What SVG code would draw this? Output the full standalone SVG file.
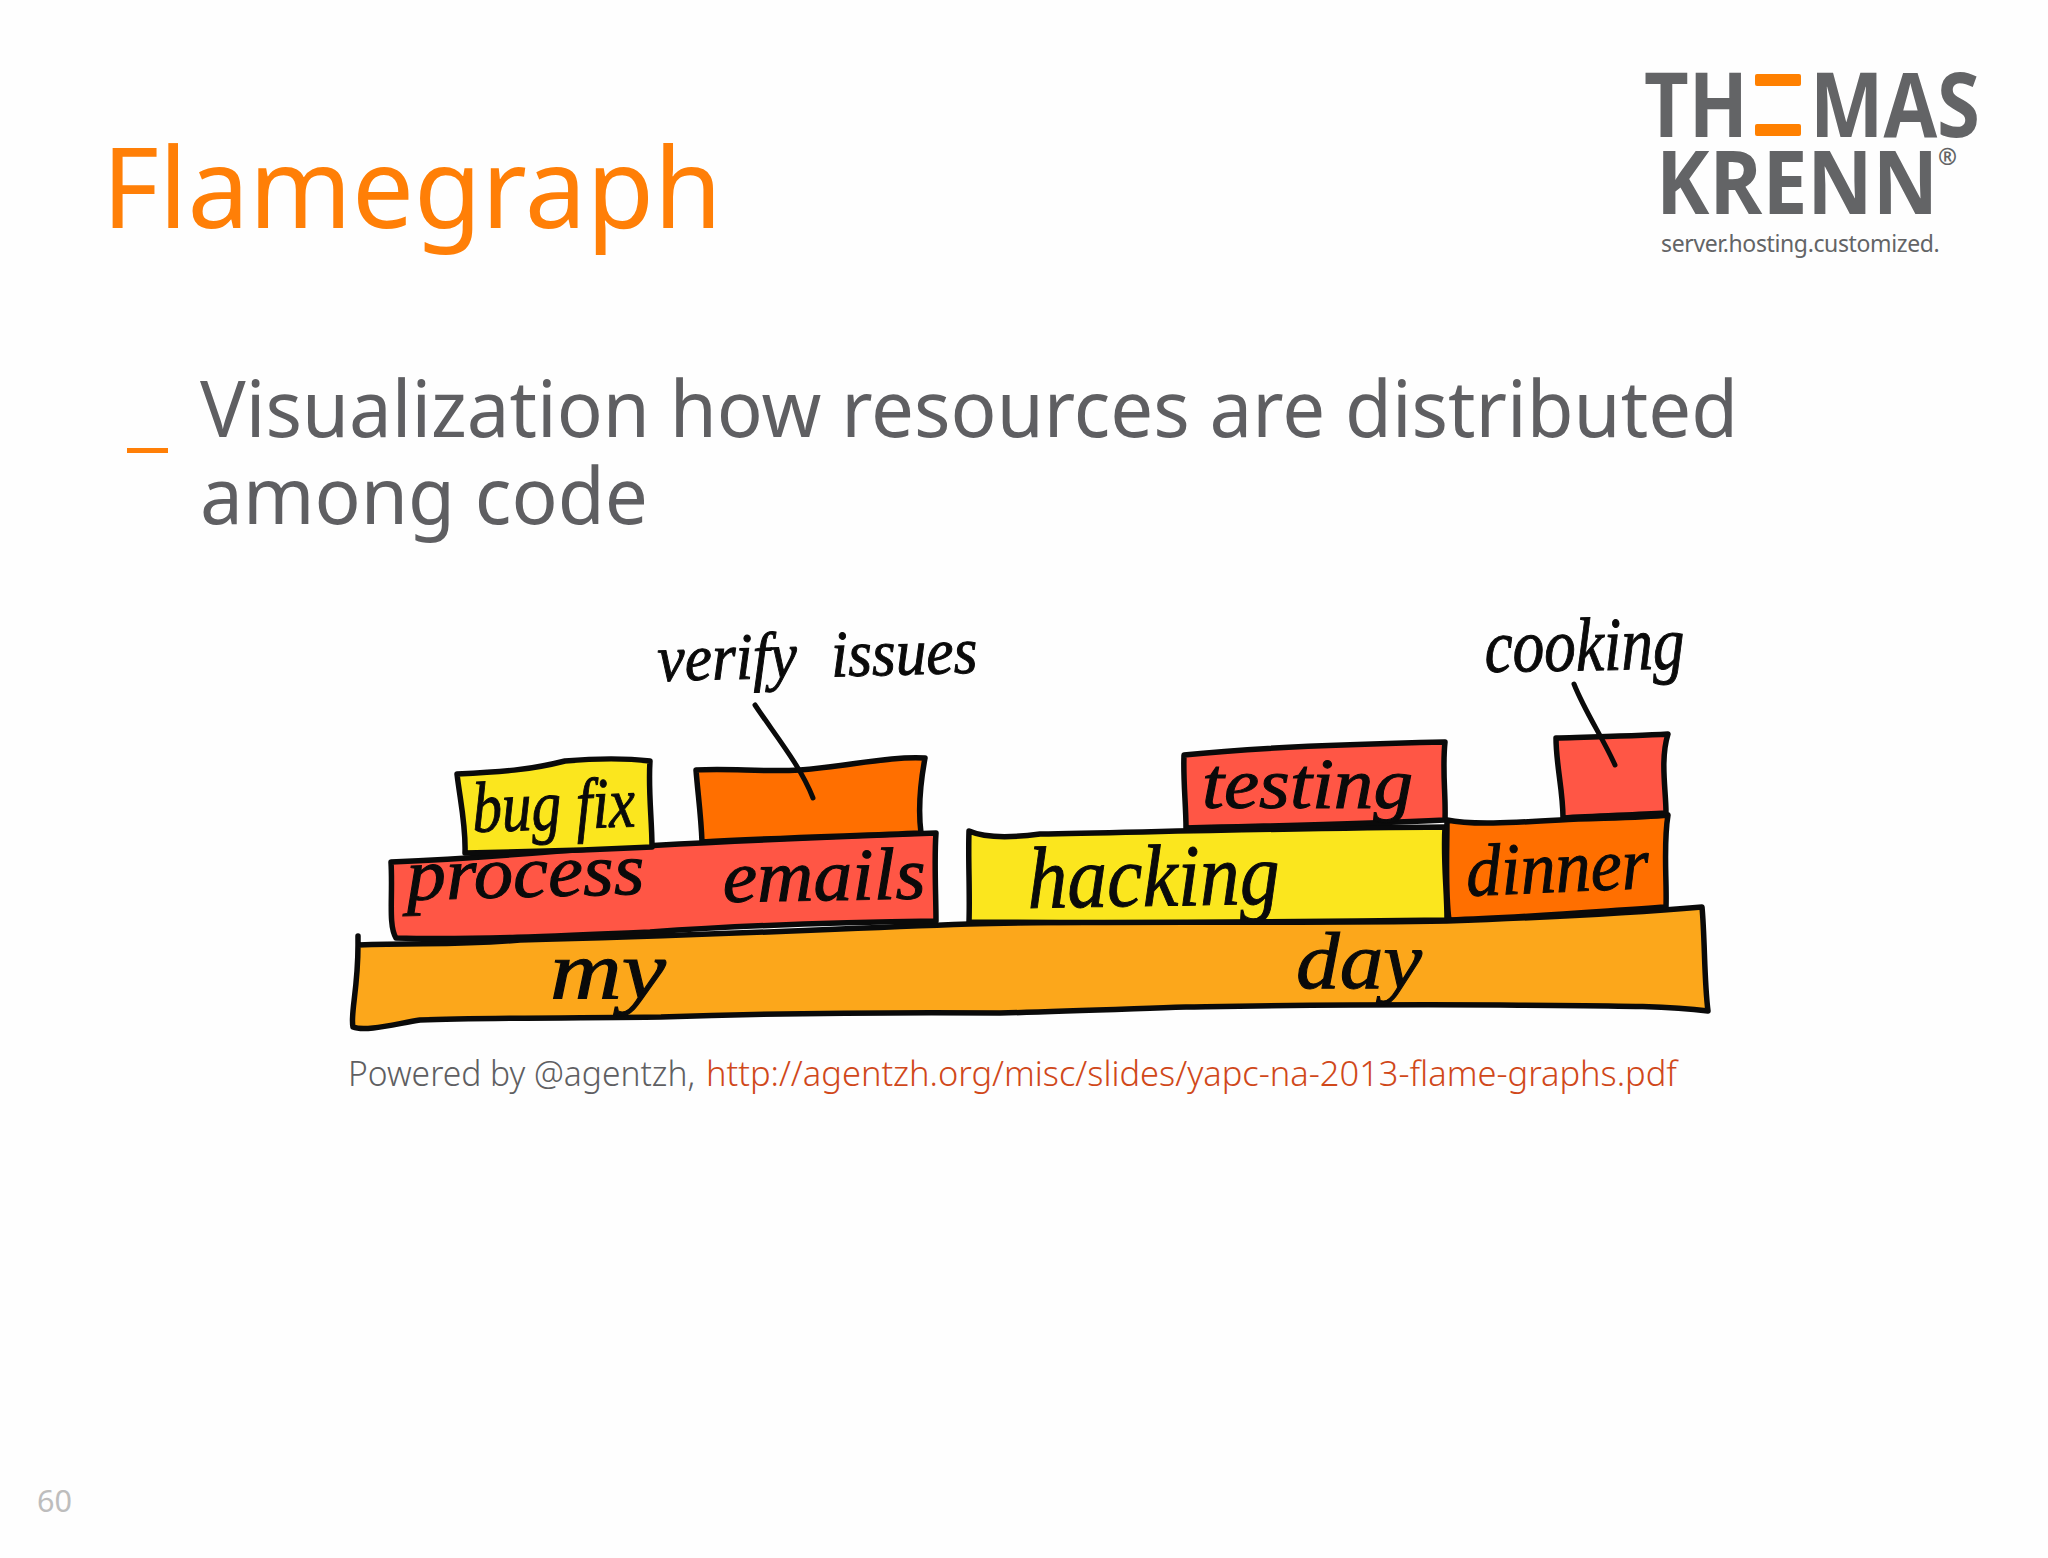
<svg xmlns="http://www.w3.org/2000/svg" width="2048" height="1558" viewBox="0 0 2048 1558">
<style>
.box{stroke:#0a0a0a;stroke-width:5.5;stroke-linejoin:round;stroke-linecap:round}
.y{fill:#fbe61e}.o{fill:#ff6f00}.r{fill:#ff5645}.a{fill:#fca71b}
.hand{font-family:"Liberation Serif",serif;font-style:italic;fill:#0a0a0a;stroke:#0a0a0a;stroke-width:1}
.lead{fill:none;stroke:#0a0a0a;stroke-width:5;stroke-linecap:round}
.slide{font-family:"Noto Sans","Open Sans",sans-serif}
.logo{font-family:"Open Sans","Noto Sans",sans-serif;font-weight:700;fill:#636466}
</style>
<rect width="2048" height="1558" fill="#fefefe"/>
<g id="title"><text class="slide" x="102" y="228" font-size="112" fill="#ff7f07" textLength="620" lengthAdjust="spacingAndGlyphs">Flamegraph</text></g>
<g id="logo">
<text class="logo" x="1644" y="137" font-size="90" textLength="104" lengthAdjust="spacingAndGlyphs">TH</text>
<rect x="1755" y="74" width="46" height="12" rx="2" fill="#ff8000"/>
<rect x="1755" y="124" width="46" height="12" rx="2" fill="#ff8000"/>
<text class="logo" x="1810" y="137" font-size="90" textLength="170" lengthAdjust="spacingAndGlyphs">MAS</text>
<text class="logo" x="1656" y="214" font-size="88" textLength="282" lengthAdjust="spacingAndGlyphs">KRENN</text>
<text class="logo" x="1938" y="165" font-size="24" font-weight="400" textLength="19" lengthAdjust="spacingAndGlyphs">®</text>
<text class="slide" x="1661" y="252" font-size="23" letter-spacing="0.3" fill="#636466" textLength="279" lengthAdjust="spacing">server.hosting.customized.</text>
</g>
<g id="bullet">
<rect x="127" y="448" width="41" height="5" fill="#ff7f07"/>
<text class="slide" x="200" y="437" font-size="78" fill="#5f5f62" textLength="1538" lengthAdjust="spacingAndGlyphs">Visualization how resources are distributed</text>
<text class="slide" x="200" y="524" font-size="78" fill="#5f5f62" textLength="448" lengthAdjust="spacingAndGlyphs">among code</text>
</g>
<g id="my-day">
<path class="box a" d="M358 936 L358 945 C420 942 450 946 520 940 C700 936 800 930 969 924 C1100 920 1280 924 1447 921 C1530 918 1620 914 1702 907 C1705 940 1704 980 1708 1011 C1660 1005 1600 1006 1500 1005 C1350 1004 1250 1006 1186 1007 C1100 1010 1050 1012 1000 1013 C850 1012 750 1014 661 1017 C560 1018 480 1018 420 1020 C395 1024 365 1032 353 1027 C350 1015 358 990 358 945 Z"/>
<text class="hand" x="550" y="998" font-size="82" textLength="116" lengthAdjust="spacingAndGlyphs">my</text>
<text class="hand" x="1296" y="988" font-size="80" textLength="126" lengthAdjust="spacingAndGlyphs">day</text>
</g>
<g id="process-emails">
<path class="box r" d="M391 862 C440 860 500 856 560 851 C650 845 800 838 936 833 C934 860 936 895 936 921 C850 922 750 925 650 932 C560 936 470 940 396 938 C388 925 393 895 391 862 Z"/>
<text class="hand" x="407" y="900" font-size="74" textLength="238" lengthAdjust="spacingAndGlyphs" transform="rotate(-1.5 407 900)">process</text>
<text class="hand" x="723" y="902" font-size="74" textLength="203" lengthAdjust="spacingAndGlyphs" transform="rotate(-1 723 902)">emails</text>
</g>
<g id="bug-fix">
<path class="box y" d="M457 774 C500 772 530 770 565 761 C600 758 625 758 650 761 C648 790 652 820 652 847 C590 850 520 852 465 853 C466 825 460 800 457 774 Z"/>
<text class="hand" x="473" y="832" font-size="72" textLength="163" lengthAdjust="spacingAndGlyphs" transform="rotate(-2 473 832)">bug fix</text>
</g>
<g id="verify-issues">
<path class="box o" d="M696 770 C730 768 760 772 800 770 C850 766 890 756 925 758 C920 785 918 810 921 833 C850 836 770 838 702 842 C701 815 698 795 696 770 Z"/>
<text class="hand" x="658" y="681" font-size="66" word-spacing="20" textLength="320" lengthAdjust="spacingAndGlyphs" transform="rotate(-1.5 658 681)">verify issues</text>
</g>
<g id="hacking">
<path class="box y" d="M969 831 C985 838 1010 838 1040 834 C1150 832 1300 828 1445 827 C1443 860 1447 890 1447 920 C1300 922 1130 923 969 922 C970 890 968 860 969 831 Z"/>
<text class="hand" x="1028" y="908" font-size="88" textLength="252" lengthAdjust="spacingAndGlyphs" transform="rotate(-1 1028 908)">hacking</text>
</g>
<g id="testing">
<path class="box r" d="M1184 755 C1250 748 1350 744 1445 742 C1442 770 1446 795 1445 820 C1360 824 1270 826 1186 828 C1186 805 1183 780 1184 755 Z"/>
<text class="hand" x="1202" y="808" font-size="72" textLength="211" lengthAdjust="spacingAndGlyphs">testing</text>
</g>
<g id="dinner">
<path class="box o" d="M1447 820 C1470 825 1510 823 1560 820 C1600 818 1640 818 1668 815 C1663 845 1667 880 1666 907 C1590 912 1520 918 1449 920 C1445 890 1447 850 1447 820 Z"/>
<text class="hand" x="1467" y="896" font-size="74" textLength="183" lengthAdjust="spacingAndGlyphs" transform="rotate(-2.5 1467 896)">dinner</text>
</g>
<g id="cooking">
<path class="box r" d="M1556 738 C1590 737 1635 736 1668 734 C1660 760 1666 790 1666 813 C1630 815 1595 816 1563 818 C1563 790 1556 765 1556 738 Z"/>
<text class="hand" x="1485" y="672" font-size="76" textLength="200" lengthAdjust="spacingAndGlyphs" transform="rotate(-1 1485 672)">cooking</text>
</g>
<g id="connectors">
<path class="lead" d="M755 705 C775 735 800 765 813 798"/>
<path class="lead" d="M1574 684 C1585 712 1603 738 1615 765"/>
</g>
<g id="caption">
<text class="slide" x="348" y="1086" font-size="34" font-weight="300" fill="#5f5f62" textLength="347" lengthAdjust="spacingAndGlyphs">Powered by @agentzh,</text>
<text class="slide" x="706" y="1086" font-size="34" font-weight="300" fill="#d0481a" textLength="971" lengthAdjust="spacingAndGlyphs">http://agentzh.org/misc/slides/yapc-na-2013-flame-graphs.pdf</text>
</g>
<g id="page"><text class="slide" x="37" y="1512" font-size="31" fill="#bdbdbd" textLength="35" lengthAdjust="spacingAndGlyphs">60</text></g>
</svg>
